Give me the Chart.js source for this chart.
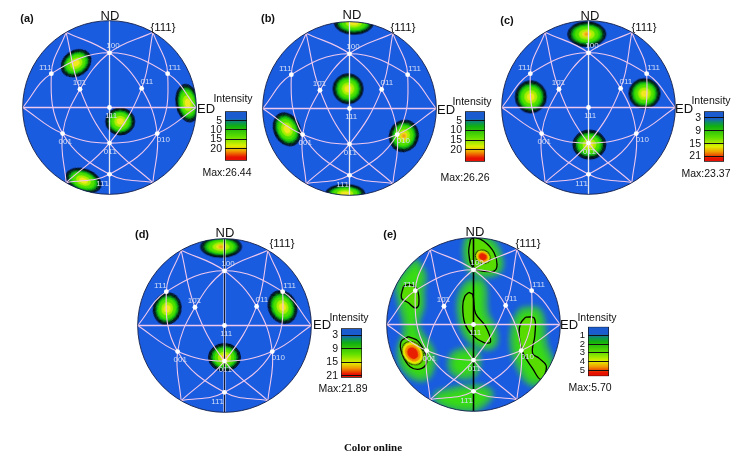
<!DOCTYPE html>
<html>
<head>
<meta charset="utf-8">
<script src="https://cdn.jsdelivr.net/npm/chart.js@4"></script>
<style>
html, body { margin: 0; padding: 0; background: #fff; }
#page { position: relative; width: 752px; height: 465px; overflow: hidden; filter: blur(0.3px); }
canvas { position: absolute; }
.t { position: absolute; transform: translate(-50%, -50%); white-space: nowrap; font-family: "Liberation Sans", sans-serif; color: #111; }
</style>
</head>
<body>
<div id="page"></div>
<script>
// net nodes, in units of the pole figure radius
const nodeX = [0, -0.67, 0.67, -0.34, 0.37, 0, -0.54, 0.55, 0, 0];
const nodeY = [0.63, 0.39, 0.39, 0.21, 0.22, 0, -0.3, -0.3, -0.41, -0.77];
const nodeNames = ['100', '1\u030411', '1\u030411', '10\u03041', '011', '111', '001', '010', '01\u03041', '11\u03041'];
const nameX = [0.04, -0.74, 0.75, -0.345, 0.43, 0.02, -0.51, 0.62, 0.01, -0.08];
const nameY = [0.71, 0.46, 0.455, 0.285, 0.3, -0.1, -0.39, -0.37, -0.505, -0.875];

// great circles
const arcs = [
  [[-1, 0], [-0.67, 0.39], [0, 0.63], [0.67, 0.39], [1, 0]],
  [[-1, 0], [-0.54, -0.3], [0, -0.41], [0.55, -0.3], [1, 0]],
  [[-0.5, 0.866], [-0.67, 0.39], [-0.54, -0.3], [0, -0.77], [0.5, -0.866]],
  [[0.5, 0.866], [0.67, 0.39], [0.55, -0.3], [0, -0.77], [-0.5, -0.866]],
  [[-0.5, 0.866], [0, 0.63], [0.37, 0.22], [0.55, -0.3], [0.5, -0.866]],
  [[0.5, 0.866], [0, 0.63], [-0.34, 0.21], [-0.54, -0.3], [-0.5, -0.866]],
  [[-0.5, 0.866], [-0.34, 0.21], [0, -0.41], [0.5, -0.866]],
  [[0.5, 0.866], [0.37, 0.22], [0, -0.41], [-0.5, -0.866]]
];

// texture spots per panel
const aSpotX = [-0.385, 0.9, 0.123, -0.3];
const aSpotY = [0.51, 0.05, -0.16, -0.842];
const aSpotRx = [0.185, 0.133, 0.167, 0.213];
const aSpotRy = [0.145, 0.22, 0.156, 0.133];
const aSpotTilt = [-35, -10, 0, 20];
const aSpotCore = [0, 0, 0, 0];

const bSpotX = [0.05, -0.017, -0.72, 0.626, -0.05];
const bSpotY = [0.99, 0.227, -0.24, -0.316, -0.98];
const bSpotRx = [0.227, 0.173, 0.15, 0.167, 0.227];
const bSpotRy = [0.135, 0.173, 0.2, 0.185, 0.105];
const bSpotTilt = [0, 0, -25, 20, 0];
const bSpotCore = [0, 0, 0, 1, 0];

const cSpotX = [-0.02, -0.665, 0.645, 0.01];
const cSpotY = [0.845, 0.123, 0.16, -0.427];
const cSpotRx = [0.22, 0.179, 0.179, 0.19];
const cSpotRy = [0.144, 0.185, 0.173, 0.167];
const cSpotTilt = [0, 0, 0, 0];
const cSpotCore = [1, 0, 0, 0];

const dSpotX = [-0.04, -0.66, 0.668, 0];
const dSpotY = [0.907, 0.193, 0.212, -0.367];
const dSpotRx = [0.236, 0.16, 0.16, 0.185];
const dSpotRy = [0.121, 0.185, 0.196, 0.16];
const dSpotTilt = [0, 15, -25, 0];
const dSpotCore = [1, 0, 0, 1];

const eSpotX = [0.108, -0.7];
const eSpotY = [0.78, -0.33];
const eSpotRx = [0.09, 0.115];
const eSpotRy = [0.075, 0.145];
const eSpotTilt = [30, -35];
const eSpotCore = [0, 0];

// panel (e) has no clean spots, so green areas and contours are outlines
const eGreens = [
  [[-0.07, 0.99], [0.14, 1], [0.27, 0.87], [0.3, 0.63], [0.1, 0.57], [-0.035, 0.63], [-0.09, 0.83]],
  [[-0.67, 0.73], [-0.575, 0.575], [-0.595, 0.4], [-0.595, 0.21], [-0.65, -0.02], [-0.49, -0.29], [-0.47, -0.45], [-0.56, -0.62], [-0.75, -0.56], [-0.85, -0.33], [-0.78, -0.06], [-0.84, 0.25], [-0.86, 0.48]],
  [[-0.07, 0.48], [0.1, 0.48], [0.14, 0.13], [0.235, -0.06], [0.235, -0.235], [0.1, -0.255], [-0.07, -0.14], [-0.15, 0.09], [-0.15, 0.32]],
  [[0.56, 0.17], [0.755, 0.15], [0.815, -0.216], [0.91, -0.486], [0.85, -0.6], [0.68, -0.68], [0.525, -0.486], [0.45, -0.216], [0.486, 0.054]],
  [[-0.17, -0.31], [0.02, -0.31], [0.02, -0.56], [-0.13, -0.6], [-0.25, -0.525], [-0.25, -0.37]],
  [[-0.42, -0.795], [0.02, -0.72], [0.197, -0.795], [0.02, -0.97], [-0.285, -0.95], [-0.42, -0.87]]
];
const eContours = [
  [[-0.035, 0.98], [-0.054, 0.82], [0.004, 0.65], [0.216, 0.61], [0.27, 0.67], [0.236, 0.83], [0.12, 0.96], [0.015, 1]],
  [[-0.807, 0.44], [-0.73, 0.46], [-0.65, 0.405], [-0.63, 0.23], [-0.67, 0.19], [-0.75, 0.25], [-0.83, 0.305]],
  [[-0.054, 0.37], [-0.008, 0.343], [0.023, 0.13], [0.14, -0.023], [0.197, -0.197], [0.12, -0.208], [-0.015, -0.12], [-0.1, 0.015], [-0.124, 0.208], [-0.1, 0.324]],
  [[0.6, 0.085], [0.7, 0.073], [0.707, -0.12], [0.68, -0.33], [0.757, -0.39], [0.84, -0.486], [0.776, -0.633], [0.68, -0.506], [0.564, -0.313], [0.525, -0.1], [0.544, 0.015]],
  [[-0.75, -0.14], [-0.633, -0.197], [-0.537, -0.41], [-0.595, -0.506], [-0.73, -0.486], [-0.826, -0.33], [-0.834, -0.197]]
];

// colour bars
const aTicks = [5, 10, 15, 20];
const bTicks = [5, 10, 15, 20];
const cTicks = [3, 9, 15, 21];
const dTicks = [3, 9, 15, 21];
const eTicks = [1, 2, 3, 4, 5];
const maxima = [26.44, 26.26, 23.37, 21.89, 5.70];

const page = document.getElementById('page');

const coolLevels = [
  [1, '#0e3480', '#000'], [0.93, '#0a6050', '#000'], [0.86, '#10a010', '#000'], [0.77, '#20cc08', '#063'],
  [0.62, '#50e000', null], [0.42, '#a8f000', null], [0.24, '#f0e820', null]
];
const hotLevels = [
  [1, '#b8ec00', '#000'], [0.86, '#f0e800', null], [0.72, '#f09000', null], [0.5, '#e82000', null]
];

function text(str, x, y, css) {
  const d = document.createElement('div');
  d.className = 't';
  d.textContent = str;
  d.style.cssText = 'left:' + x + 'px;top:' + y + 'px;' + css;
  page.appendChild(d);
}

function sprite(rx, ry, levels, core) {
  const c = document.createElement('canvas');
  c.width = Math.ceil(2 * Math.max(rx, ry) + 8);
  c.height = c.width;
  const g = c.getContext('2d');
  g.filter = 'blur(0.4px)';
  g.lineWidth = 0.8;
  for (const l of levels) {
    g.beginPath();
    g.ellipse(c.width / 2, c.height / 2, rx * l[0], ry * l[0], 0, 0, Math.PI * 2);
    g.fillStyle = l[1];
    g.fill();
    if (l[2]) { g.strokeStyle = l[2]; g.stroke(); }
  }
  if (core) {
    g.filter = 'blur(1px)';
    g.beginPath();
    g.ellipse(c.width / 2, c.height / 2, rx * 0.13, ry * 0.13, 0, 0, Math.PI * 2);
    g.fillStyle = '#f08010';
    g.fill();
  }
  return c;
}

function discClip(chart) {
  const { x, y } = chart.scales;
  const g = chart.ctx;
  g.beginPath();
  g.arc(x.getPixelForValue(0), y.getPixelForValue(0), x.getPixelForValue(1) - x.getPixelForValue(0), 0, Math.PI * 2);
  g.clip();
}

const polePlugin = {
  id: 'pole',
  beforeDatasetsDraw(chart) {
    const { x, y } = chart.scales;
    const g = chart.ctx;
    g.save();
    g.beginPath();
    g.arc(x.getPixelForValue(0), y.getPixelForValue(0), x.getPixelForValue(1) - x.getPixelForValue(0), 0, Math.PI * 2);
    g.fillStyle = '#1a5ce0';
    g.fill();
    g.restore();
  },
  beforeDatasetDraw(chart, args) {
    const g = chart.ctx;
    const ds = chart.data.datasets[args.index];
    g.save();
    discClip(chart);
    if (ds.blobFill) {
      const line = args.meta.dataset;
      line.updateControlPoints(chart.chartArea, 'x');
      g.save();
      g.filter = 'blur(' + ds.blobBlur + 'px)';
      g.fillStyle = ds.blobFill;
      g.strokeStyle = ds.blobFill;
      g.lineWidth = ds.blobGrow;
      g.lineJoin = 'round';
      g.beginPath();
      line.path(g);
      g.closePath();
      g.fill();
      if (ds.blobGrow) g.stroke();
      g.restore();
    }
  },
  afterDatasetDraw(chart) {
    chart.ctx.restore();
  },
  afterDatasetsDraw(chart) {
    const { x, y } = chart.scales;
    const g = chart.ctx;
    g.save();
    g.beginPath();
    g.arc(x.getPixelForValue(0), y.getPixelForValue(0), x.getPixelForValue(1) - x.getPixelForValue(0), 0, Math.PI * 2);
    g.strokeStyle = '#15204a';
    g.lineWidth = 0.9;
    g.stroke();
    g.font = '8px "Liberation Sans", sans-serif';
    g.fillStyle = '#d4def6';
    g.textAlign = 'center';
    g.textBaseline = 'middle';
    nodeNames.forEach((n, i) => g.fillText(n, x.getPixelForValue(nameX[i]), y.getPixelForValue(nameY[i])));
    g.restore();
  }
};

function toXY(list) {
  return list.map(p => ({ x: p[0], y: p[1] }));
}

function closed(list) {
  return toXY(list.concat([list[0]]));
}

function lineSet(points, color, width, order) {
  return { data: toXY(points), showLine: true, borderColor: color, borderWidth: width, pointRadius: 0, tension: 0.4, order: order };
}

function poleFigure(cx, cy, s) {
  const el = document.createElement('canvas');
  el.width = 191;
  el.height = 191;
  el.style.left = (cx - 95.5) + 'px';
  el.style.top = (cy - 95.5) + 'px';
  page.appendChild(el);

  const sets = [];
  sets.push({ data: nodeX.map((v, i) => ({ x: v, y: nodeY[i] })), pointRadius: 2.4, pointBackgroundColor: '#fff', pointBorderWidth: 0, order: 0 });
  sets.push({ data: [{ x: -1, y: 0 }, { x: 1, y: 0 }], showLine: true, borderColor: '#eec8ee', borderWidth: 1.4, pointRadius: 0, order: 2 });
  if (s.vertCore) {
    sets.push({ data: [{ x: 0, y: 1 }, { x: 0, y: -1 }], showLine: true, borderColor: s.vertCore, borderWidth: 0.8, pointRadius: 0, order: 1 });
  }
  sets.push({ data: [{ x: 0, y: 1 }, { x: 0, y: -1 }], showLine: true, borderColor: s.vertColor, borderWidth: s.vertWidth, pointRadius: 0, order: 2 });
  arcs.forEach(a => sets.push(lineSet(a, '#eec8ee', 1.1, 2)));
  sets.push({
    data: s.x.map((v, i) => ({ x: v, y: s.y[i] })),
    radius: 1,
    borderWidth: 0,
    rotation: s.tilt,
    pointStyle: c => {
      const u = c.chart.scales.x.getPixelForValue(1) - c.chart.scales.x.getPixelForValue(0);
      return sprite(s.rx[c.dataIndex] * u, s.ry[c.dataIndex] * u, s.levels, s.core[c.dataIndex]);
    },
    order: 3
  });
  (s.contours || []).forEach(o => {
    sets.push({ data: closed(o), showLine: true, borderColor: '#000', borderWidth: 1.3, pointRadius: 0, tension: 0.4, order: 4, blobFill: '#58dc00', blobBlur: 1.5, blobGrow: 0 });
  });
  (s.greens || []).forEach(o => {
    sets.push({ data: closed(o), showLine: true, borderWidth: 0, pointRadius: 0, tension: 0.4, order: 5, blobFill: '#38dc14', blobBlur: 3, blobGrow: 3 });
  });

  new Chart(el, {
    type: 'scatter',
    data: { datasets: sets },
    options: {
      responsive: false,
      animation: false,
      events: [],
      layout: { padding: 0, autoPadding: false },
      plugins: { legend: { display: false }, tooltip: { enabled: false } },
      scales: {
        x: { display: false, min: -1.1, max: 1.1 },
        y: { display: false, min: -1.1, max: 1.1 }
      }
    },
    plugins: [polePlugin]
  });
}

function colourBar(left, top, width, height, max, ticks, fontSize) {
  const gutter = 30;
  const pad = 8;
  const el = document.createElement('canvas');
  el.width = gutter + width + 2;
  el.height = height + pad * 2;
  el.style.left = (left - gutter) + 'px';
  el.style.top = (top - pad) + 'px';
  page.appendChild(el);
  new Chart(el, {
    type: 'bar',
    data: {
      labels: ['Intensity'],
      datasets: [{
        data: [[0, max]],
        barPercentage: 1,
        categoryPercentage: 1,
        borderColor: '#111',
        borderWidth: 1,
        borderSkipped: false,
        backgroundColor: c => {
          const area = c.chart.chartArea;
          if (!area) return '#1a5ce0';
          const grad = c.chart.ctx.createLinearGradient(0, area.top, 0, area.bottom);
          grad.addColorStop(0, '#1a5cd0');
          grad.addColorStop(0.14, '#1a5cd0');
          grad.addColorStop(0.22, '#0f9060');
          grad.addColorStop(0.3, '#10b010');
          grad.addColorStop(0.52, '#60e000');
          grad.addColorStop(0.7, '#e0f000');
          grad.addColorStop(0.8, '#f0a000');
          grad.addColorStop(0.93, '#e81000');
          grad.addColorStop(1, '#e81000');
          return grad;
        }
      }]
    },
    options: {
      responsive: false,
      animation: false,
      events: [],
      layout: { padding: { top: pad, bottom: pad, right: 1 }, autoPadding: false },
      plugins: { legend: { display: false }, tooltip: { enabled: false } },
      scales: {
        x: { display: false },
        y: {
          reverse: true,
          min: 0,
          max: max,
          afterBuildTicks: axis => { axis.ticks = ticks.map(v => ({ value: v })); },
          afterFit: axis => { axis.width = gutter; },
          border: { display: false },
          grid: { color: '#111', lineWidth: 1, z: 1, drawTicks: false },
          ticks: { color: '#111', padding: 3, autoSkip: false, font: { family: '"Liberation Sans", sans-serif', size: fontSize } }
        }
      }
    }
  });
}

poleFigure(109.3, 107.7, { x: aSpotX, y: aSpotY, rx: aSpotRx, ry: aSpotRy, tilt: aSpotTilt, core: aSpotCore, levels: coolLevels, vertColor: '#e6e6ee', vertWidth: 1.3 });
poleFigure(349.2, 108.7, { x: bSpotX, y: bSpotY, rx: bSpotRx, ry: bSpotRy, tilt: bSpotTilt, core: bSpotCore, levels: coolLevels, vertColor: '#e6e6ee', vertWidth: 1.3 });
poleFigure(588.3, 107.3, { x: cSpotX, y: cSpotY, rx: cSpotRx, ry: cSpotRy, tilt: cSpotTilt, core: cSpotCore, levels: coolLevels, vertColor: '#e6e6ee', vertWidth: 1.3 });
poleFigure(224.7, 325, { x: dSpotX, y: dSpotY, rx: dSpotRx, ry: dSpotRy, tilt: dSpotTilt, core: dSpotCore, levels: coolLevels, vertColor: '#f0e8f4', vertWidth: 2, vertCore: '#1a1a30' });
poleFigure(473, 324.7, { x: eSpotX, y: eSpotY, rx: eSpotRx, ry: eSpotRy, tilt: eSpotTilt, core: eSpotCore, levels: hotLevels, vertColor: '#000', vertWidth: 1.6, greens: eGreens, contours: eContours });

colourBar(225, 110, 21, 52, maxima[0], aTicks, 10.5);
colourBar(465, 110, 19, 53, maxima[1], bTicks, 10.5);
colourBar(704, 110, 19, 53, maxima[2], cTicks, 10.5);
colourBar(341, 327, 20, 52, maxima[3], dTicks, 10.5);
colourBar(588, 326, 20, 51, maxima[4], eTicks, 9.5);

const labelCss = 'font-size:13px;';
const tagCss = 'font-size:11px;font-weight:bold;';
const smallCss = 'font-size:10.5px;';
text('(a)', 27, 18, tagCss); text('ND', 110, 15, labelCss); text('{111}', 163, 27, 'font-size:11.5px;'); text('ED', 206, 108, labelCss);
text('(b)', 268, 18, tagCss); text('ND', 352, 14, labelCss); text('{111}', 403, 27, 'font-size:11.5px;'); text('ED', 446, 109, labelCss);
text('(c)', 507, 20, tagCss); text('ND', 590, 15, labelCss); text('{111}', 644, 27, 'font-size:11.5px;'); text('ED', 684, 108, labelCss);
text('(d)', 142, 234, tagCss); text('ND', 225, 232, labelCss); text('{111}', 282, 243, 'font-size:11.5px;'); text('ED', 322, 324, labelCss);
text('(e)', 390, 234, tagCss); text('ND', 475, 231, labelCss); text('{111}', 528, 243, 'font-size:11.5px;'); text('ED', 569, 324, labelCss);

text('Intensity', 233, 98, smallCss); text('Max:' + maxima[0].toFixed(2), 227, 172, smallCss);
text('Intensity', 472, 101, smallCss); text('Max:' + maxima[1].toFixed(2), 465, 177, smallCss);
text('Intensity', 711, 100, smallCss); text('Max:' + maxima[2].toFixed(2), 706, 173, smallCss);
text('Intensity', 349, 317, smallCss); text('Max:' + maxima[3].toFixed(2), 343, 388, smallCss);
text('Intensity', 597, 317, smallCss); text('Max:' + maxima[4].toFixed(2), 590, 387, smallCss);

text('Color online', 373, 447, 'font-family:"Liberation Serif",serif;font-size:11px;font-weight:bold;');
</script>
</body>
</html>
